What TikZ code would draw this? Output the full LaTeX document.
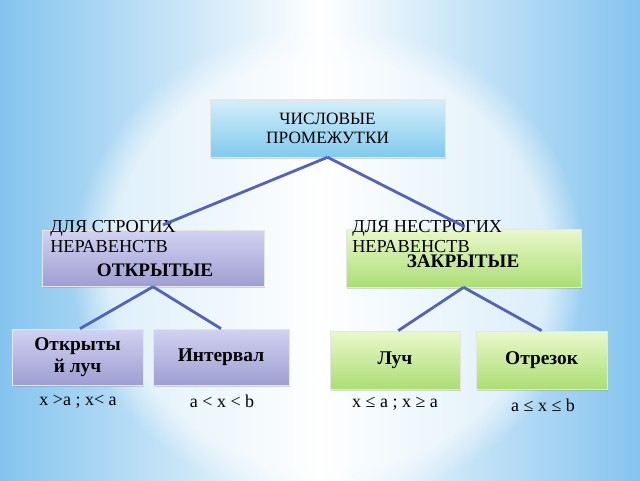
\documentclass[tikz,border=0pt]{standalone}
\usepackage{fontspec}
\setmainfont{Liberation Serif}
\usetikzlibrary{positioning,calc,shadows,fadings}

\definecolor{bgblue}{RGB}{132,196,238}
\definecolor{topA}{RGB}{210,238,250}
\definecolor{topB}{RGB}{130,202,238}
\definecolor{purA}{RGB}{210,210,242}
\definecolor{purB}{RGB}{158,158,210}
\definecolor{grnA}{RGB}{234,248,204}
\definecolor{grnB}{RGB}{172,222,116}
\definecolor{linkblue}{RGB}{82,98,190}

\begin{document}
\begin{tikzpicture}[
    every node/.style={font=\fontsize{12}{14}\selectfont},
    box/.style={draw=gray!20, line width=0.5pt, align=center,
                drop shadow={opacity=0.3, shadow xshift=0.8pt, shadow yshift=-1.2pt}},
    topbox/.style={box, top color=topA, bottom color=topB,
                   minimum width=58.75mm, minimum height=14.25mm,
                   font=\fontsize{12.3}{14}\selectfont},
    strictbox/.style={box, top color=purA, bottom color=purB, minimum height=14mm},
    loosebox/.style={box, top color=grnA, bottom color=grnB, minimum height=14.5mm},
    leafbox/.style={font=\bfseries\fontsize{13.8}{15.5}\selectfont},
    headline/.style={font=\fontsize{13}{14.2}\selectfont, align=left, inner sep=0pt},
    kind/.style={font=\bfseries\fontsize{13.6}{14}\selectfont, inner sep=0pt},
    rulelbl/.style={font=\fontsize{12.8}{14}\selectfont, inner sep=0pt},
    link/.style={draw=linkblue, line width=2pt},
]
  \useasboundingbox (0,0) rectangle (16,12);
  % background
  \begin{scope}
    \clip (0,0) rectangle (16,12);
    \shade[left color=bgblue, right color=bgblue, middle color=white] (0,0) rectangle (16,12);
    \fill[white, path fading=circle with fuzzy edge 15 percent, opacity=0.6] (8.2,5.4) ellipse (6.4 and 6.0);
  \end{scope}

  \node[topbox] (root) at (8.19,8.79) {ЧИСЛОВЫЕ\\ПРОМЕЖУТКИ};

  \node[strictbox, minimum width=55.5mm] (strict) at (3.825,5.54) {};
  \node[loosebox, minimum width=58.75mm] (loose) at (11.59,5.55) {};

  \node[strictbox, leafbox, minimum width=32.75mm] (openray) at (1.94,3.075) {Открыты\\й луч};
  \node[strictbox, leafbox, minimum width=34mm] (interval) at (5.525,3.075) {Интервал};
  \node[loosebox, leafbox, minimum width=32.5mm] (ray) at (9.875,3.0) {Луч};
  \node[loosebox, leafbox, minimum width=32.75mm] (segment) at (13.54,3.0) {Отрезок};

  \node[headline, anchor=north west] (strictcap) at (1.25,6.5) {ДЛЯ СТРОГИХ\\НЕРАВЕНСТВ};
  \node[headline, anchor=north west] (loosecap) at (8.8,6.5) {ДЛЯ НЕСТРОГИХ\\НЕРАВЕНСТВ};
  \node[kind] (openlbl) at (3.875,5.25) {ОТКРЫТЫЕ};
  \node[kind] (closedlbl) at (11.575,5.47) {ЗАКРЫТЫЕ};

  \node[rulelbl] (openrule) at (1.95,1.95) {x >a ; x< a};
  \node[rulelbl] (intrule) at (5.55,1.975) {a < x < b};
  \node[rulelbl] (rayrule) at (9.875,1.9) {x ≤ a ; x ≥ a};
  \node[rulelbl] (segrule) at (13.575,1.875) {a ≤ x ≤ b};

  \draw[link] (root.south) -- ($(strict.north)+(0.25,0.13)$);
  \draw[link] (root.south) -- ($(loose.north)+(0.02,0.05)$);
  \draw[link] (strict.south) -- ($(openray.north)+(0.06,0)$);
  \draw[link] (strict.south) -- (interval.north);
  \draw[link] (loose.south) -- ($(ray.north)+(0.08,0)$);
  \draw[link] (loose.south) -- (segment.north);
\end{tikzpicture}
\end{document}
